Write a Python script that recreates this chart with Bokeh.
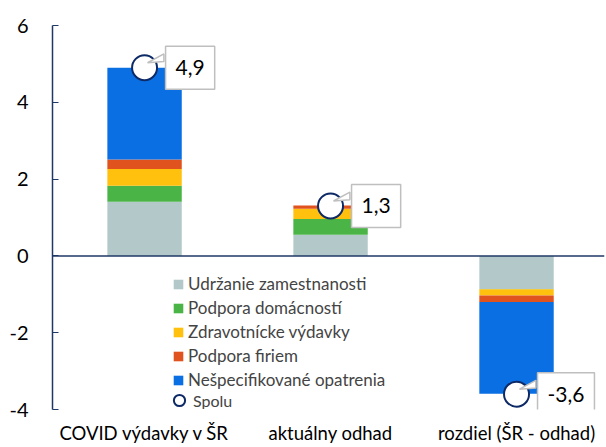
from bokeh.plotting import figure
from bokeh.models import (ColumnDataSource, Legend, LegendItem, Label, Span,
                          FixedTicker, Range1d)
from bokeh.embed import file_html
from bokeh.resources import INLINE

categories = ["COVID výdavky v ŠR", "aktuálny odhad", "rozdiel (ŠR - odhad)"]
series_names = ["Udržanie zamestnanosti", "Podpora domácností", "Zdravotnícke výdavky",
                "Podpora firiem", "Nešpecifikované opatrenia"]
udrzanie = [1.41, 0.55, -0.86]
domacnosti = [0.42, 0.41, -0.01]
zdravotnicke = [0.43, 0.27, -0.16]
firmy = [0.25, 0.08, -0.17]
nespecifikovane = [2.39, 0.0, -2.39]
spolu = [4.9, 1.3, -3.6]
spolu_labels = ["4,9", "1,3", "-3,6"]
y_ticks = [-4, -2, 0, 2, 4, 6]
y_tick_labels = ["-4", "-2", "0", "2", "4", "6"]

colors = ["#B3C9C9", "#4BB447", "#FFC10E", "#E0531F", "#0A6FE3"]
NAVY = "#1F3864"
FONT = "Lato"

xs = list(range(len(categories)))
keys = ["s0", "s1", "s2", "s3", "s4"]
src = ColumnDataSource(dict(x=xs, s0=udrzanie, s1=domacnosti, s2=zdravotnicke,
                            s3=firmy, s4=nespecifikovane, total=spolu))

p = figure(width=606, height=447, output_backend="svg", toolbar_location=None,
           x_range=Range1d(-0.495, 2.473), y_range=Range1d(-4, 6),
           min_border_left=52, min_border_right=2, min_border_top=25,
           min_border_bottom=38)
p.outline_line_color = None
p.grid.visible = False

bars = p.vbar_stack(keys, x="x", width=0.4, color=colors, source=src, line_width=0)

p.add_layout(Span(location=0, dimension="width", line_color=NAVY, line_width=1.5))

circ = p.scatter(x="x", y="total", source=src, size=25, fill_color="white",
                 line_color="#0D2A66", line_width=2)

# callout tails
for i, t in enumerate(spolu):
    p.patch([i + 0.016, i + 0.104, i + 0.104], [t + 0.13, t + 0.36, t + 0.16],
            fill_color="white", line_color="#BFBFBF", line_width=1.5)

for i, (t, lab) in enumerate(zip(spolu, spolu_labels)):
    p.add_layout(Label(x=i, y=t, x_offset=21, y_offset=0, text=lab,
                       text_font=FONT, text_font_size="21px", text_color="black",
                       text_align="left", text_baseline="middle",
                       background_fill_color="white", border_line_color="#BFBFBF",
                       border_line_width=1.5, padding=(10, 14)))

# axes
p.yaxis.ticker = FixedTicker(ticks=y_ticks)
p.yaxis.major_label_overrides = {t: s for t, s in zip(y_ticks, y_tick_labels)}
p.yaxis.axis_line_color = NAVY
p.yaxis.axis_line_width = 1.5
p.yaxis.major_tick_line_color = NAVY
p.yaxis.major_tick_in = 6
p.yaxis.major_tick_out = 0
p.yaxis.minor_tick_line_color = None
p.yaxis.major_label_standoff = 24
p.yaxis.major_label_text_font = FONT
p.yaxis.major_label_text_font_size = "20px"
p.yaxis.major_label_text_color = "black"

p.xaxis.ticker = FixedTicker(ticks=xs)
p.xaxis.major_label_overrides = {i: c for i, c in enumerate(categories)}
p.xaxis.axis_line_color = None
p.xaxis.major_tick_line_color = None
p.xaxis.major_tick_in = 0
p.xaxis.major_tick_out = 0
p.xaxis.minor_tick_line_color = None
p.xaxis.major_label_standoff = 12
p.xaxis.major_label_text_font = FONT
p.xaxis.major_label_text_font_size = "18.5px"
p.xaxis.major_label_text_color = "black"

leg1 = Legend(items=[LegendItem(label=n, renderers=[r]) for n, r in zip(series_names, bars)],
              location=(120, 19), padding=0, margin=0, spacing=3,
              glyph_width=12, glyph_height=12, label_height=20, label_standoff=4,
              label_text_font=FONT, label_text_font_size="17px",
              border_line_color=None, background_fill_alpha=0)
leg2 = Legend(items=[LegendItem(label="Spolu", renderers=[circ])],
              location=(165 - 52, -5), padding=0, margin=0,
              glyph_width=28, glyph_height=28, label_height=18, label_standoff=-4,
              label_text_font=FONT, label_text_font_size="16px",
              border_line_color=None, background_fill_alpha=0)
p.add_layout(leg1)
p.add_layout(leg2)

open("out.html", "w").write(file_html(p, INLINE))
